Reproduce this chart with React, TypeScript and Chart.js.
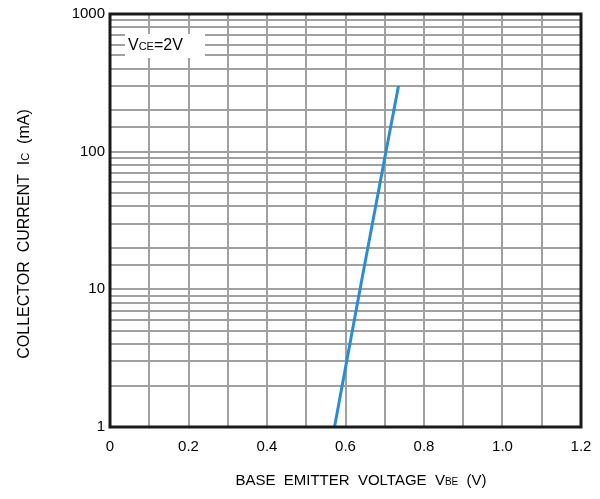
import React, { useEffect, useRef } from "react";
import { Chart, registerables } from "chart.js";

Chart.register(...registerables);

const vbe = [0.572, 0.637, 0.703, 0.735];
const ic = [1, 10, 100, 300];
const xTickLabels = ["0", "0.2", "0.4", "0.6", "0.8", "1.0", "1.2"];
const yTickLabels = ["1", "10", "100", "1000"];

const FONT = "'Liberation Sans', Arial, sans-serif";

type Seg = [string, number];

function segWidth(ctx: CanvasRenderingContext2D, segs: Seg[]) {
  let w = 0;
  for (const [t, s] of segs) {
    ctx.font = `${s}px ${FONT}`;
    w += ctx.measureText(t).width;
  }
  return w;
}

function drawSegs(ctx: CanvasRenderingContext2D, segs: Seg[], x: number, y: number) {
  let cx = x;
  ctx.textAlign = "left";
  ctx.textBaseline = "alphabetic";
  for (const [t, s] of segs) {
    ctx.font = `${s}px ${FONT}`;
    ctx.fillText(t, cx, y);
    cx += ctx.measureText(t).width;
  }
}

const decorPlugin = {
  id: "decor",
  afterDatasetsDraw(chart: any) {
    const { ctx, chartArea } = chart;
    const { left, top } = chartArea;
    ctx.save();
    ctx.fillStyle = "#ffffff";
    ctx.fillRect(left + 15, top + 20, 80, 24);
    ctx.fillStyle = "#000";
    drawSegs(ctx, [["V", 16], ["CE", 11], ["=2V", 16]], left + 18, top + 36);
    ctx.restore();
  },
  afterDraw(chart: any) {
    const { ctx, chartArea } = chart;
    const { left, top, right, bottom } = chartArea;
    ctx.save();
    ctx.strokeStyle = "#1a1a1a";
    ctx.lineWidth = 3;
    ctx.strokeRect(left, top, right - left, bottom - top);

    ctx.fillStyle = "#000";
    const xs: Seg[] = [["BASE  EMITTER  VOLTAGE  V", 15], ["BE", 10], ["  (V)", 15]];
    const xw = segWidth(ctx, xs);
    drawSegs(ctx, xs, 361 - xw / 2, bottom + 58);

    const ys: Seg[] = [["COLLECTOR  CURRENT  I", 16], ["C", 11], ["  (mA)", 16]];
    const yw = segWidth(ctx, ys);
    ctx.translate(29, 234);
    ctx.rotate(-Math.PI / 2);
    drawSegs(ctx, ys, -yw / 2, 0);
    ctx.restore();
  },
};

export default function App() {
  const ref = useRef<HTMLCanvasElement | null>(null);
  useEffect(() => {
    if (!ref.current) return;
    const gridColor = "#a0a0a0";
    const chart = new Chart(ref.current, {
      type: "scatter",
      data: {
        datasets: [
          {
            data: vbe.map((v, i) => ({ x: v, y: ic[i] })),
            showLine: true,
            borderColor: "#2a8dd3",
            backgroundColor: "#2a8dd3",
            borderWidth: 3,
            pointRadius: 0,
            tension: 0,
          },
        ],
      },
      options: {
        responsive: false,
        animation: false,
        layout: { padding: { left: 0, right: 19, top: 13, bottom: 0 } },
        plugins: { legend: { display: false }, tooltip: { enabled: false } },
        scales: {
          x: {
            type: "linear",
            min: 0,
            max: 1.2,
            afterFit: (s: any) => {
              s.height = 72;
            },
            border: { display: false },
            grid: {
              color: gridColor,
              lineWidth: 2,
              drawTicks: true,
              tickLength: 9,
              tickColor: "rgba(0,0,0,0)",
            },
            ticks: {
              stepSize: 0.1,
              autoSkip: false,
              maxRotation: 0,
              padding: 2,
              color: "#000",
              font: { size: 15, family: FONT },
              callback: (v: any) => {
                const k = Math.round(Number(v) * 10);
                if (k % 2 !== 0) return "";
                return xTickLabels[k / 2] ?? "";
              },
            },
          },
          y: {
            type: "logarithmic",
            min: 1,
            max: 1000,
            afterFit: (s: any) => {
              s.width = 110;
            },
            border: { display: false },
            grid: { color: gridColor, lineWidth: 2, drawTicks: false },
            ticks: {
              autoSkip: false,
              padding: 5,
              color: "#000",
              font: { size: 15, family: FONT },
              callback: (v: any) => {
                const n = Number(v);
                const e = Math.round(Math.log10(n));
                if (Math.abs(n - Math.pow(10, e)) < 1e-9) return yTickLabels[e] ?? "";
                return "";
              },
            },
          },
        },
      },
      plugins: [decorPlugin],
    } as any);
    return () => chart.destroy();
  }, []);
  return (
    <div style={{ position: "absolute", left: 0, top: 0, width: 600, height: 499, background: "#fff" }}>
      <canvas ref={ref} width={600} height={499} style={{ display: "block" }} />
    </div>
  );
}
